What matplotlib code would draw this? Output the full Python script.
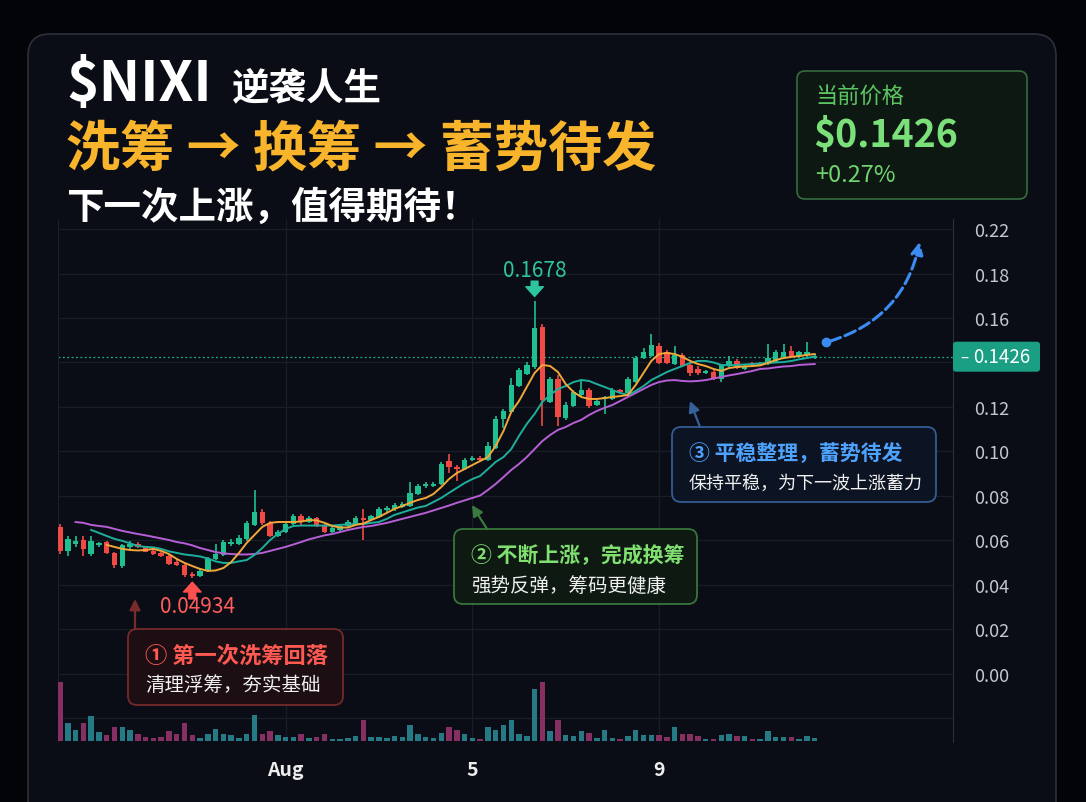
import numpy as np
import matplotlib
matplotlib.use("Agg")
import matplotlib.pyplot as plt
from matplotlib.patches import FancyBboxPatch

plt.rcParams['font.family'] = ['Noto Sans CJK SC', 'DejaVu Sans']

# ---- data (4h candles) ----
opens = [0.0661, 0.0553, 0.0584, 0.0602, 0.0539, 0.0580, 0.0593, 0.0544, 0.0485, 0.0571,
         0.0584, 0.0571, 0.0553, 0.0544, 0.0530, 0.0503, 0.0490, 0.0449, 0.0440, 0.0463,
         0.0517, 0.0535, 0.0584, 0.0584, 0.0607, 0.0670, 0.0728, 0.0679, 0.0620, 0.0638,
         0.0674, 0.0710, 0.0683, 0.0701, 0.0670, 0.0638, 0.0647, 0.0665, 0.0674, 0.0697,
         0.0692, 0.0706, 0.0737, 0.0742, 0.0751, 0.0755, 0.0809, 0.0845, 0.0845, 0.0854,
         0.0957, 0.0930, 0.0921, 0.0962, 0.0971, 0.0962, 0.1016, 0.1146, 0.1178, 0.1294,
         0.1348, 0.1380, 0.1560, 0.1222, 0.1326, 0.1151, 0.1204, 0.1254, 0.1276, 0.1209,
         0.1236, 0.1236, 0.1276, 0.1263, 0.1312, 0.1420, 0.1429, 0.1474, 0.1447, 0.1393,
         0.1434, 0.1389, 0.1371, 0.1353, 0.1357, 0.1326, 0.1384, 0.1407, 0.1371, 0.1398,
         0.1389, 0.1393, 0.1402, 0.1425, 0.1452, 0.1429, 0.1434, 0.1420]
highs = [0.0674, 0.0620, 0.0620, 0.0620, 0.0620, 0.0593, 0.0598, 0.0548, 0.0584, 0.0598,
         0.0593, 0.0575, 0.0557, 0.0548, 0.0539, 0.0517, 0.0494, 0.0458, 0.0472, 0.0526,
         0.0584, 0.0602, 0.0607, 0.0625, 0.0688, 0.0827, 0.0742, 0.0688, 0.0647, 0.0683,
         0.0719, 0.0719, 0.0710, 0.0706, 0.0674, 0.0661, 0.0670, 0.0692, 0.0710, 0.0742,
         0.0715, 0.0751, 0.0755, 0.0769, 0.0773, 0.0863, 0.0854, 0.0863, 0.0863, 0.0953,
         0.0989, 0.0939, 0.0971, 0.0980, 0.0980, 0.1043, 0.1160, 0.1191, 0.1330, 0.1375,
         0.1402, 0.1678, 0.1573, 0.1335, 0.1344, 0.1222, 0.1276, 0.1326, 0.1285, 0.1231,
         0.1249, 0.1285, 0.1281, 0.1335, 0.1429, 0.1465, 0.1528, 0.1488, 0.1456, 0.1474,
         0.1443, 0.1398, 0.1384, 0.1366, 0.1366, 0.1393, 0.1429, 0.1416, 0.1393, 0.1402,
         0.1402, 0.1483, 0.1456, 0.1483, 0.1474, 0.1452, 0.1492, 0.1436]
lows = [0.0539, 0.0530, 0.0571, 0.0530, 0.0530, 0.0571, 0.0539, 0.0476, 0.0476, 0.0562,
        0.0566, 0.0548, 0.0535, 0.0526, 0.0490, 0.0485, 0.0436, 0.0431, 0.0436, 0.0458,
        0.0512, 0.0530, 0.0575, 0.0580, 0.0598, 0.0665, 0.0670, 0.0616, 0.0616, 0.0634,
        0.0670, 0.0670, 0.0679, 0.0661, 0.0634, 0.0634, 0.0643, 0.0661, 0.0670, 0.0602,
        0.0688, 0.0701, 0.0728, 0.0733, 0.0746, 0.0751, 0.0804, 0.0836, 0.0840, 0.0849,
        0.0903, 0.0867, 0.0917, 0.0957, 0.0957, 0.0957, 0.1011, 0.1106, 0.1173, 0.1290,
        0.1344, 0.1371, 0.1115, 0.1218, 0.1115, 0.1142, 0.1200, 0.1249, 0.1196, 0.1204,
        0.1169, 0.1231, 0.1263, 0.1258, 0.1308, 0.1416, 0.1425, 0.1393, 0.1393, 0.1389,
        0.1380, 0.1339, 0.1344, 0.1348, 0.1321, 0.1312, 0.1380, 0.1371, 0.1366, 0.1384,
        0.1384, 0.1389, 0.1398, 0.1420, 0.1420, 0.1425, 0.1425, 0.1416]
closes = [0.0553, 0.0607, 0.0598, 0.0562, 0.0598, 0.0584, 0.0544, 0.0490, 0.0580, 0.0584,
          0.0571, 0.0548, 0.0539, 0.0530, 0.0494, 0.0490, 0.0445, 0.0440, 0.0463, 0.0517,
          0.0539, 0.0593, 0.0593, 0.0611, 0.0679, 0.0728, 0.0679, 0.0620, 0.0638, 0.0674,
          0.0710, 0.0683, 0.0701, 0.0665, 0.0638, 0.0656, 0.0665, 0.0683, 0.0701, 0.0692,
          0.0710, 0.0742, 0.0746, 0.0760, 0.0764, 0.0813, 0.0845, 0.0854, 0.0854, 0.0944,
          0.0930, 0.0921, 0.0962, 0.0971, 0.0962, 0.1025, 0.1146, 0.1182, 0.1299, 0.1366,
          0.1389, 0.1555, 0.1231, 0.1326, 0.1155, 0.1209, 0.1267, 0.1276, 0.1204, 0.1227,
          0.1245, 0.1276, 0.1267, 0.1326, 0.1420, 0.1447, 0.1479, 0.1398, 0.1398, 0.1434,
          0.1384, 0.1353, 0.1353, 0.1362, 0.1326, 0.1389, 0.1407, 0.1375, 0.1384, 0.1389,
          0.1398, 0.1420, 0.1447, 0.1447, 0.1425, 0.1447, 0.1447, 0.1426]
volumes = [177, 54, 34, 54, 74, 27, 17, 42, 42, 32,
           20, 12, 9, 12, 30, 20, 55, 19, 9, 22,
           37, 22, 19, 10, 22, 77, 20, 30, 17, 12,
           12, 22, 10, 12, 20, 7, 7, 10, 15, 62,
           12, 12, 9, 15, 12, 47, 20, 12, 10, 24,
           42, 34, 20, 10, 7, 42, 34, 47, 64, 22,
           15, 155, 177, 30, 62, 17, 14, 29, 25, 10,
           34, 10, 7, 15, 34, 19, 19, 17, 12, 42,
           20, 20, 14, 7, 7, 19, 22, 14, 15, 5,
           5, 29, 12, 12, 12, 7, 15, 9]
# moving averages as drawn (they start before the visible window)
ma_fast = [None] * 6 + [
    0.0580, 0.0571, 0.0562, 0.0557, 0.0555, 0.0557, 0.0562, 0.0553, 0.0539, 0.0517,
    0.0499, 0.0485, 0.0472, 0.0463, 0.0465, 0.0476, 0.0503, 0.0544, 0.0589, 0.0625,
    0.0661, 0.0679, 0.0683, 0.0683, 0.0683, 0.0685, 0.0692, 0.0690, 0.0679, 0.0665,
    0.0658, 0.0658, 0.0670, 0.0676, 0.0692, 0.0706, 0.0724, 0.0742, 0.0755, 0.0769,
    0.0782, 0.0791, 0.0809, 0.0840, 0.0876, 0.0903, 0.0921, 0.0939, 0.0957, 0.0975,
    0.1025, 0.1092, 0.1178, 0.1227, 0.1290, 0.1353, 0.1389, 0.1384, 0.1357, 0.1303,
    0.1267, 0.1245, 0.1236, 0.1236, 0.1240, 0.1245, 0.1249, 0.1254, 0.1299, 0.1353,
    0.1407, 0.1438, 0.1443, 0.1438, 0.1425, 0.1407, 0.1393, 0.1384, 0.1371, 0.1362,
    0.1375, 0.1380, 0.1382, 0.1384, 0.1387, 0.1398, 0.1411, 0.1420, 0.1425, 0.1429,
    0.1434, 0.1438]
ma_mid = [None] * 4 + [
    0.0647, 0.0634, 0.0620, 0.0607, 0.0598, 0.0587, 0.0575, 0.0571, 0.0569, 0.0562,
    0.0551, 0.0544, 0.0537, 0.0533, 0.0528, 0.0519, 0.0506, 0.0499, 0.0499, 0.0506,
    0.0512, 0.0535, 0.0566, 0.0602, 0.0629, 0.0652, 0.0665, 0.0667, 0.0667, 0.0667,
    0.0667, 0.0667, 0.0670, 0.0672, 0.0674, 0.0674, 0.0679, 0.0683, 0.0697, 0.0715,
    0.0726, 0.0737, 0.0748, 0.0755, 0.0773, 0.0791, 0.0814, 0.0836, 0.0858, 0.0876,
    0.0890, 0.0921, 0.0953, 0.0975, 0.1011, 0.1070, 0.1124, 0.1169, 0.1223, 0.1254,
    0.1281, 0.1294, 0.1312, 0.1321, 0.1317, 0.1303, 0.1290, 0.1276, 0.1263, 0.1254,
    0.1272, 0.1294, 0.1321, 0.1339, 0.1357, 0.1371, 0.1384, 0.1398, 0.1407, 0.1407,
    0.1400, 0.1389, 0.1387, 0.1389, 0.1391, 0.1393, 0.1396, 0.1398, 0.1400, 0.1402,
    0.1407, 0.1414, 0.1420, 0.1427]
ma_slow = [None] * 2 + [
    0.0683, 0.0679, 0.0670, 0.0665, 0.0661, 0.0652, 0.0643, 0.0636, 0.0629, 0.0623,
    0.0616, 0.0609, 0.0602, 0.0593, 0.0587, 0.0578, 0.0566, 0.0557, 0.0548, 0.0542,
    0.0539, 0.0537, 0.0537, 0.0539, 0.0544, 0.0553, 0.0562, 0.0571, 0.0582, 0.0593,
    0.0605, 0.0614, 0.0623, 0.0629, 0.0638, 0.0647, 0.0654, 0.0661, 0.0665, 0.0672,
    0.0679, 0.0688, 0.0697, 0.0706, 0.0715, 0.0724, 0.0735, 0.0746, 0.0757, 0.0769,
    0.0780, 0.0791, 0.0802, 0.0827, 0.0854, 0.0885, 0.0917, 0.0944, 0.0975, 0.1011,
    0.1047, 0.1074, 0.1097, 0.1110, 0.1128, 0.1142, 0.1164, 0.1182, 0.1196, 0.1209,
    0.1227, 0.1245, 0.1263, 0.1281, 0.1299, 0.1312, 0.1319, 0.1321, 0.1317, 0.1315,
    0.1317, 0.1321, 0.1328, 0.1335, 0.1342, 0.1348, 0.1355, 0.1362, 0.1371, 0.1373,
    0.1378, 0.1382, 0.1384, 0.1389, 0.1391, 0.1393]

xtick_pos = [29, 53, 77]
xtick_labels = ['Aug', '5', '9']
ytick_vals = [-0.02, 0.00, 0.02, 0.04, 0.06, 0.08, 0.10, 0.12, 0.14, 0.16, 0.18, 0.20]
ytick_labels = ['', '0.00', '0.02', '0.04', '0.06', '0.08', '0.10', '0.12', '', '0.16', '0.18', '0.22']
last_price = 0.1426
low_label = '0.04934'

GREEN = '#1fbf8f'
RED = '#f04a45'
C_FAST = '#f2a73a'
C_MID = '#1fae9b'
C_SLOW = '#b65fd6'

opens, highs, lows, closes = map(np.array, (opens, highs, lows, closes))
volumes = np.array(volumes)
idx = np.arange(len(closes))

W, H = 1086, 803
fig = plt.figure(figsize=(W / 100, H / 100), dpi=100)
fig.patch.set_facecolor('#030407')


def frac(x0, y0, x1, y1):
    # pixel box -> figure fraction
    return [x0 / W, 1 - y1 / H, (x1 - x0) / W, (y1 - y0) / H]


# background panel
bg = fig.add_axes([0, 0, 1, 1])
bg.set_xlim(0, W)
bg.set_ylim(H, 0)
bg.axis('off')
bg.set_zorder(0)
bg.add_patch(FancyBboxPatch((28, 35), 1028, 800, boxstyle='round,pad=0,rounding_size=22',
                            fc='#0a0d15', ec='#2c303a', lw=1.2))

# price axes
ax = fig.add_axes(frac(58, 220, 953, 743))
ax.set_zorder(1)
ax.set_facecolor('none')
xlim = (-0.26, 114.78)
ax.set_xlim(*xlim)
ax.set_ylim(-0.0306, 0.2045)
ax.set_yticks(ytick_vals)
ax.set_yticklabels(ytick_labels)
ax.set_xticks(xtick_pos)
ax.set_xticklabels(xtick_labels)
ax.yaxis.tick_right()
ax.grid(color='#181d28', lw=0.9)
ax.tick_params(axis='y', length=0, pad=15, labelsize=13, labelcolor='#c3c7cf')
ax.tick_params(axis='x', length=0, pad=13, labelsize=14, labelcolor='#ececec')
for lbl in ax.get_xticklabels():
    lbl.set_fontweight('bold')
for s in ('top', 'bottom'):
    ax.spines[s].set_visible(False)
ax.spines['right'].set_color('#2b303b')
ax.spines['left'].set_color('#1a1f2a')

up = closes >= opens
cols = np.where(up, GREEN, RED)
ax.vlines(idx, lows, highs, colors=cols, lw=1.2, zorder=3)
body_lo = np.minimum(opens, closes)
body_h = np.maximum(np.abs(closes - opens), 0.0008)
ax.bar(idx, body_h, bottom=body_lo, width=0.7, color=cols, zorder=4)

ax.plot(idx, np.array(ma_slow, dtype=float), color=C_SLOW, lw=1.4, zorder=5)
ax.plot(idx, np.array(ma_mid, dtype=float), color=C_MID, lw=1.4, zorder=5)
ax.plot(idx, np.array(ma_fast, dtype=float), color=C_FAST, lw=1.4, zorder=5)

ax.axhline(last_price, color='#1fb08a', ls=(0, (1.5, 2)), lw=0.9, zorder=2)

# peak / low markers
pk = int(np.argmax(highs))
lo = int(np.argmin(lows))
ax.annotate(f'{highs[pk]:.4f}', xy=(pk, highs[pk]), xytext=(0, 22), textcoords='offset points',
            ha='center', va='center', color='#2ec4a0', fontsize=15, zorder=6)
ax.annotate('', xy=(pk, highs[pk]), xytext=(0, 14), textcoords='offset points',
            arrowprops=dict(arrowstyle='simple,head_length=0.5,head_width=0.9,tail_width=0.35',
                            color='#2ec4a0', shrinkA=0, shrinkB=3, mutation_scale=14))
ax.annotate('', xy=(lo, lows[lo]), xytext=(0, -15), textcoords='offset points',
            arrowprops=dict(arrowstyle='simple,head_length=0.5,head_width=0.9,tail_width=0.35',
                            color='#ff5050', shrinkA=0, shrinkB=3, mutation_scale=14))
ax.annotate(low_label, xy=(lo, lows[lo]), xytext=(4, -20), textcoords='offset points',
            ha='center', va='center', color='#ff5c5c', fontsize=15)

# dashed projection arrow
ax.plot([98.5], [0.1492], marker='o', ms=6, color='#3b8cf0', zorder=6)
ax.annotate('', xy=(110.5, 0.1942), xytext=(98.6, 0.1492),
            arrowprops=dict(arrowstyle='-|>', ls='--', lw=2.2, color='#3b8cf0',
                            connectionstyle='arc3,rad=0.3', mutation_scale=18,
                            shrinkA=2, shrinkB=0))

# volume
vax = fig.add_axes(frac(58, 642, 953, 742))
vax.set_xlim(*xlim)
vax.set_ylim(0, 300)
vax.axis('off')
vax.set_zorder(1)
vcols = np.where(up, '#267a85', '#862f63')
vax.bar(idx, volumes, width=0.7, color=vcols)

# overlay for boxes and titles
top = fig.add_axes([0, 0, 1, 1])
top.set_xlim(0, W)
top.set_ylim(H, 0)
top.axis('off')
top.set_zorder(3)
top.patch.set_alpha(0)

# price tag
y_tag = H - ax.transData.transform((0, last_price))[1]
top.add_patch(FancyBboxPatch((953, y_tag - 15), 87, 30, boxstyle='round,pad=0,rounding_size=3',
                             fc='#1a9e84', ec='none'))
top.text(960, y_tag, '–', color='white', fontsize=11, va='center', ha='left')
top.text(1002, y_tag, f'{last_price:.4f}', color='white', fontsize=13.5, va='center', ha='center')

# titles
top.text(66, 85, '$NIXI', fontsize=40, weight='bold', color='white', va='center')
top.text(232, 88, '逆袭人生', fontsize=27, weight='bold', color='white', va='center')
top.text(66, 150, '洗筹 → 换筹 → 蓄势待发', fontsize=39, weight='bold', color='#f8b42a', va='center')
top.text(66, 207, '下一次上涨，值得期待！', fontsize=27, weight='bold', color='white', va='center')

# current price box
top.add_patch(FancyBboxPatch((797, 72), 230, 128, boxstyle='round,pad=0,rounding_size=8',
                             fc='#0d1812', ec='#356b3e', lw=1.2))
top.text(815, 96, '当前价格', fontsize=16, color='#5bc561', va='center')
top.text(813, 135, f'${last_price:.4f}', fontsize=27, weight='bold', color='#7be07a', va='center')
top.text(815, 176, '+0.27%', fontsize=17, color='#6fd46e', va='center')

# callout boxes
boxes = [
    ((128, 630, 215, 76), '#7a2c2c', '#1e0f12', '① 第一次洗筹回落', '清理浮筹，夯实基础', '#ff5a52', 16, 14,
     (135, 600), (135, 630)),
    ((454, 530, 243, 75), '#3a7a3e', '#0f1a12', '② 不断上涨，完成换筹', '强势反弹，筹码更健康', '#7fe070', 15, 14,
     (472, 506), (487, 530)),
    ((672, 428, 264, 75), '#35609a', '#0d1524', '③ 平稳整理，蓄势待发', '保持平稳，为下一波上涨蓄力', '#4ea3ff', 15, 13,
     (690, 402), (700, 428)),
]
for (bx, by, bw, bh), ec, fc, t1, t2, tc, fs1, fs2, tip, base in boxes:
    top.add_patch(FancyBboxPatch((bx, by), bw, bh, boxstyle='round,pad=0,rounding_size=9',
                                 fc=fc, ec=ec, lw=1.3, alpha=0.95))
    top.text(bx + 17, by + 26, t1, fontsize=fs1, weight='bold', color=tc, va='center')
    top.text(bx + 17, by + 56, t2, fontsize=fs2, color='#f0f0f0', va='center')
    top.annotate('', xy=tip, xytext=base,
                 arrowprops=dict(arrowstyle='-|>', color=ec, lw=1.6, mutation_scale=16,
                                 shrinkA=0, shrinkB=0))

fig.savefig('out.png', dpi=100, facecolor=fig.get_facecolor())
